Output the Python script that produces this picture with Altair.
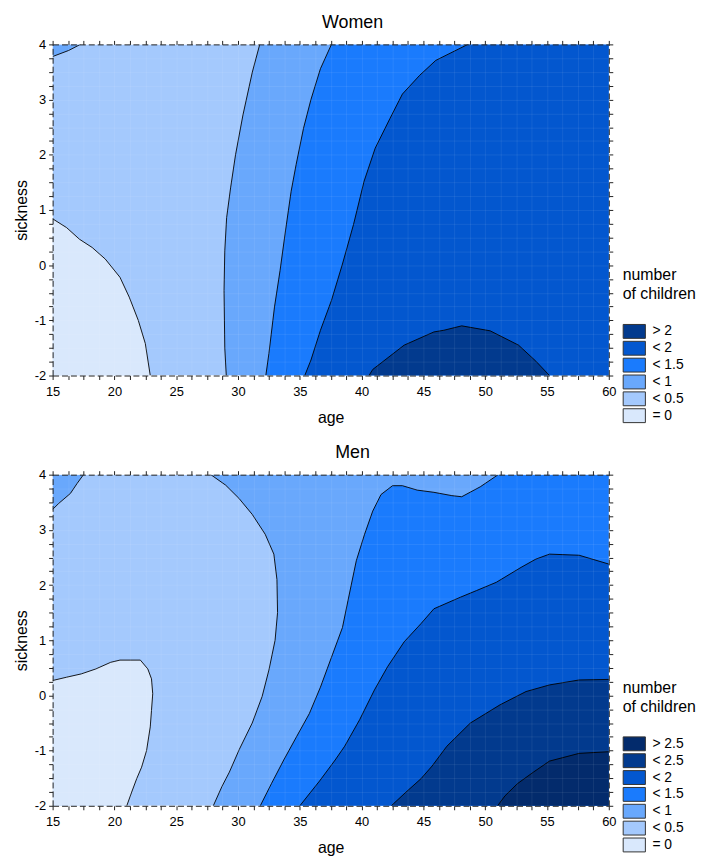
import altair as alt
import pandas as pd

FONT = "Liberation Sans"

# ---------------- legend levels & colours ----------------
LEVELS_W = ["> 2", "< 2", "< 1.5", "< 1", "< 0.5", "= 0"]
COLORS_W = ["#023a8e", "#0357cf", "#1a7bfd", "#69a8fc", "#a4c9fd", "#d9e8fc"]
LEVELS_M = ["> 2.5", "< 2.5", "< 2", "< 1.5", "< 1", "< 0.5", "= 0"]
COLORS_M = ["#032b6c", "#023a8e", "#0357cf", "#1a7bfd", "#69a8fc", "#a4c9fd", "#d9e8fc"]

X_MIN, X_MAX = 15, 60
Y_MIN, Y_MAX = -2, 4
X_TICKS = [15 + 1.25 * i for i in range(37)]
Y_TICKS = [-2 + 0.25 * i for i in range(25)]

# ---------------- Women contour lines (age, sickness) ----------------
W_C0_X = [15, 16.13, 17.17, 18.2, 19.26, 20.45, 21.2, 21.93, 22.5, 22.9]
W_C0_Y = [0.84, 0.68, 0.47, 0.32, 0.11, -0.22, -0.58, -1.0, -1.42, -2]
W_CORNER_X = [15, 16.3, 17.25]
W_CORNER_Y = [3.78, 3.89, 4]
W_C05_X = [31.76, 31.16, 30.4, 29.8, 29.4, 29.08, 28.93, 28.87, 28.93, 29.05]
W_C05_Y = [4, 3.5, 2.72, 2.0, 1.4, 0.86, 0.26, -0.46, -1.5, -2]
W_C1_X = [37.56, 36.67, 35.9, 35.3, 34.7, 34.3, 33.84, 33.4, 32.95, 32.5, 32.25]
W_C1_Y = [4, 3.56, 3.0, 2.48, 1.82, 1.34, 0.62, -0.1, -0.76, -1.6, -2]
W_C15_X = [48.6, 46.0, 44.7, 43.3, 42.3, 41.1, 40.2, 39.35, 38.45, 37.56, 36.67, 35.9, 35.4]
W_C15_Y = [4, 3.71, 3.44, 3.1, 2.66, 2.12, 1.52, 0.74, 0.02, -0.64, -1.18, -1.72, -2]
W_C2_X = [40.6, 40.9, 43.44, 45.85, 46.65, 48.1, 50.4, 52.7, 54.1, 55.2]
W_C2_Y = [-2, -1.89, -1.45, -1.21, -1.18, -1.1, -1.19, -1.45, -1.74, -2]

# ---------------- Men contour lines ----------------
M_CORNER_X = [15, 15.5, 16.44, 16.98, 17.5]
M_CORNER_Y = [3.37, 3.48, 3.66, 3.84, 4]
M_C0_X = [15, 16.13, 17.32, 18.5, 19.7, 20.45, 22.1, 22.7, 23.0, 23.1, 23.0, 22.9, 22.6, 22.2, 21.8, 21.4, 21.0]
M_C0_Y = [0.27, 0.33, 0.39, 0.48, 0.6, 0.64, 0.64, 0.48, 0.3, 0.03, -0.27, -0.57, -1.0, -1.3, -1.51, -1.75, -2]
M_C05_X = [27.8, 29.0, 30.08, 31.15, 32.2, 32.9, 33.15, 33.2, 33.0, 32.5, 31.95, 31.15, 30.1, 29.3, 28.7, 28.0]
M_C05_Y = [4, 3.81, 3.57, 3.28, 2.92, 2.56, 2.1, 1.5, 1.0, 0.46, -0.02, -0.5, -0.98, -1.39, -1.65, -2]
M_C1_X = [51.05, 49.6, 48.1, 47.3, 45.85, 44.5, 43.3, 42.5, 41.57, 40.9, 40.24, 39.57, 38.9, 38.45,
          37.56, 36.67, 35.77, 34.73, 33.7, 32.7, 31.8]
M_C1_Y = [4, 3.78, 3.6, 3.62, 3.68, 3.72, 3.8, 3.8, 3.64, 3.34, 2.92, 2.44, 1.72, 1.23,
          0.69, 0.15, -0.33, -0.75, -1.17, -1.6, -2]
M_C15_X = [60, 57.6, 55.2, 54.1, 52.9, 50.9, 49.3, 48.0, 45.85, 44.8, 43.44, 42.1, 41.04, 39.84,
           38.63, 37.86, 36.6, 35.0]
M_C15_Y = [2.38, 2.54, 2.56, 2.47, 2.32, 2.05, 1.9, 1.78, 1.57, 1.3, 0.97, 0.52, 0.1, -0.44,
           -0.92, -1.17, -1.55, -2]
M_C2_X = [60, 57.6, 55.2, 53.3, 51.2, 48.8, 46.9, 45.7, 44.8, 43.6, 42.4]
M_C2_Y = [0.29, 0.28, 0.19, 0.07, -0.17, -0.5, -0.92, -1.28, -1.51, -1.75, -2]
M_C25_X = [60, 57.6, 55.2, 53.9, 52.6, 51.6, 51.0]
M_C25_Y = [-1.02, -1.05, -1.19, -1.39, -1.6, -1.82, -2]

# ---------------- helpers ----------------
xsc = alt.Scale(domain=[X_MIN, X_MAX], nice=False, zero=False)
ysc = alt.Scale(domain=[Y_MIN, Y_MAX], nice=False, zero=False)

FULL_X = [X_MIN, X_MAX, X_MAX, X_MIN]
FULL_Y = [Y_MIN, Y_MIN, Y_MAX, Y_MAX]


def frame(xs, ys):
    return pd.DataFrame({"x": xs, "y": ys, "i": list(range(len(xs)))})


def region(xs, ys, color):
    return alt.Chart(frame(xs, ys)).mark_line(
        fill=color, strokeWidth=0, strokeOpacity=0, clip=True
    ).encode(
        x=alt.X("x:Q", scale=xsc, axis=None),
        y=alt.Y("y:Q", scale=ysc, axis=None),
        order="i:Q",
    )


def contour(xs, ys):
    return alt.Chart(frame(xs, ys)).mark_line(
        color="black", strokeWidth=0.9, clip=True
    ).encode(
        x=alt.X("x:Q", scale=xsc, axis=None),
        y=alt.Y("y:Q", scale=ysc, axis=None),
        order="i:Q",
    )


common_axis = dict(
    tickSize=4, tickColor="#222", tickWidth=1,
    domainColor="#222", domainWidth=1, domainDash=[6, 3],
    labelFont=FONT, labelFontSize=13, labelColor="black", labelFlush=False,
    titleFont=FONT, titleFontSize=16, titleFontWeight="normal", titleColor="black",
    zindex=1,
)


def axes_layer(main):
    if main:
        xa = alt.Axis(orient="bottom", values=X_TICKS, title="age",
                      labelExpr="datum.value % 5 === 0 ? toString(datum.value) : ''",
                      labelPadding=6, titlePadding=11, grid=True, gridColor="white",
                      gridOpacity=0.08, **common_axis)
        ya = alt.Axis(orient="left", values=Y_TICKS, title="sickness",
                      labelExpr="datum.value % 1 === 0 ? toString(datum.value) : ''",
                      labelPadding=3, titlePadding=5, grid=True, gridColor="white",
                      gridOpacity=0.08, **common_axis)
    else:
        xa = alt.Axis(orient="top", values=X_TICKS, title=None, labels=False, grid=False,
                      **common_axis)
        ya = alt.Axis(orient="right", values=Y_TICKS, title=None, labels=False, grid=False,
                      **common_axis)
    return alt.Chart(frame([X_MIN, X_MAX], [Y_MIN, Y_MAX])).mark_line(
        strokeOpacity=0
    ).encode(
        x=alt.X("x:Q", scale=xsc, axis=xa),
        y=alt.Y("y:Q", scale=ysc, axis=ya),
        order="i:Q",
    )


def legend_layer(levels, colors, ly, tpad):
    return alt.Chart(pd.DataFrame({"level": levels})).mark_rect().encode(
        x=alt.value(0), x2=alt.value(0), y=alt.value(0), y2=alt.value(0),
        fill=alt.Fill(
            "level:N",
            scale=alt.Scale(domain=levels, range=colors),
            legend=alt.Legend(
                title=["number", "of children"], orient="none", legendX=575, legendY=ly,
                symbolType="M-1,-1L2.2,-1L2.2,1L-1,1Z", symbolSize=196,
                symbolStrokeColor="#333", symbolStrokeWidth=1, symbolOpacity=1,
                labelOffset=15, labelFont=FONT, labelFontSize=14, labelColor="black",
                titleFont=FONT, titleFontSize=16, titleFontWeight="normal",
                titleColor="black", titleLineHeight=19, titlePadding=tpad, rowPadding=-2,
            ),
        ),
    )


def panel(title, layers, levels, colors, ly, tpad):
    return alt.layer(
        axes_layer(True), *layers, legend_layer(levels, colors, ly, tpad), axes_layer(False)
    ).resolve_axis(x="independent", y="independent").properties(
        width=561, height=334,
        title=alt.TitleParams(text=title, font=FONT, fontSize=18, fontWeight="normal",
                              color="black", anchor="middle", dx=22),
    )


cW = dict(zip(LEVELS_W, COLORS_W))
women_layers = [
    region(FULL_X, FULL_Y, cW["< 0.5"]),
    region(W_C0_X + [15], W_C0_Y + [-2], cW["= 0"]),
    region(W_CORNER_X + [15], W_CORNER_Y + [4], cW["< 1"]),
    region(W_C05_X + [60, 60], W_C05_Y + [-2, 4], cW["< 1"]),
    region(W_C1_X + [60, 60], W_C1_Y + [-2, 4], cW["< 1.5"]),
    region(W_C15_X + [60, 60], W_C15_Y + [-2, 4], cW["< 2"]),
    region(W_C2_X, W_C2_Y, cW["> 2"]),
    contour(W_C0_X, W_C0_Y), contour(W_CORNER_X, W_CORNER_Y), contour(W_C05_X, W_C05_Y),
    contour(W_C1_X, W_C1_Y), contour(W_C15_X, W_C15_Y), contour(W_C2_X, W_C2_Y),
]

cM = dict(zip(LEVELS_M, COLORS_M))
men_layers = [
    region(FULL_X, FULL_Y, cM["< 0.5"]),
    region(M_C0_X + [15], M_C0_Y + [-2], cM["= 0"]),
    region(M_CORNER_X + [15], M_CORNER_Y + [4], cM["< 1"]),
    region(M_C05_X + [60, 60], M_C05_Y + [-2, 4], cM["< 1"]),
    region(M_C1_X + [60, 60], M_C1_Y + [-2, 4], cM["< 1.5"]),
    region(M_C15_X + [60], M_C15_Y + [-2], cM["< 2"]),
    region(M_C2_X + [60], M_C2_Y + [-2], cM["< 2.5"]),
    region(M_C25_X + [60], M_C25_Y + [-2], cM["> 2.5"]),
    contour(M_C0_X, M_C0_Y), contour(M_CORNER_X, M_CORNER_Y), contour(M_C05_X, M_C05_Y),
    contour(M_C1_X, M_C1_Y), contour(M_C15_X, M_C15_Y), contour(M_C2_X, M_C2_Y),
    contour(M_C25_X, M_C25_Y),
]

women = panel("Women", women_layers, LEVELS_W, COLORS_W, 225, 22)
men = panel("Men", men_layers, LEVELS_M, COLORS_M, 207, 22)

chart = alt.vconcat(women, men, spacing=19).resolve_scale(fill="independent").properties(
    padding={"left": 5, "top": 2, "right": 5, "bottom": 5}
).configure_view(stroke=None).configure_title(offset=7)

chart.save("out.html", embed_options={"renderer": "svg", "actions": False})
